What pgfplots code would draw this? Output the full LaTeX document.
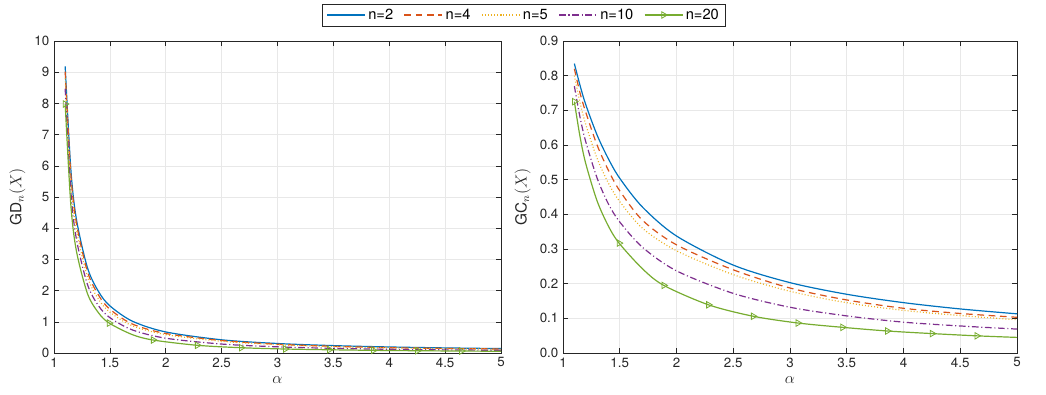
\documentclass[border=0pt]{standalone}
\usepackage{pgfplots}
\pgfplotsset{compat=1.18}
\usepackage{pgfplotstable}
\usepackage{fontspec}
\setmainfont{TeX Gyre Heros}
\definecolor{mblue}{rgb}{0,0.447,0.741}
\definecolor{morange}{rgb}{0.85,0.325,0.098}
\definecolor{myellow}{rgb}{0.929,0.694,0.125}
\definecolor{mpurple}{rgb}{0.494,0.184,0.556}
\definecolor{mgreen}{rgb}{0.466,0.674,0.188}
\definecolor{axgray}{rgb}{0.15,0.15,0.15}

% alpha  n=2  n=4  n=5  n=10  (GC)
\pgfplotstableread{
a     b      o      y      p
1.1   0.835  0.820  0.800  0.770
1.15  0.772  0.750  0.722  0.680
1.2   0.717  0.695  0.660  0.610
1.3   0.629  0.600  0.562  0.505
1.4   0.560  0.527  0.490  0.430
1.5   0.504  0.468  0.437  0.378
1.7   0.421  0.383  0.360  0.305
2     0.3375 0.312  0.295  0.237
2.5   0.2536 0.240  0.226  0.172
3     0.203  0.1875 0.178  0.132
3.5   0.1694 0.153  0.145  0.107
4     0.1453 0.129  0.123  0.089
4.5   0.1271 0.114  0.108  0.078
5     0.113  0.103  0.096  0.069
}\gcdata
\pgfplotstableread{
a     g
1.1   0.725
1.15  0.624
1.2   0.547
1.3   0.439
1.4   0.366
1.494 0.317
1.7   0.243
1.888 0.195
2.282 0.139
2.676 0.106
3.07  0.0865
3.464 0.074
3.858 0.0635
4.252 0.056
4.646 0.0495
5     0.045
}\gcgreen
\pgfplotstableread{
a     b      o      y      p
1.1   9.185  9.02   8.80   8.47
1.15  5.92   5.75   5.535  5.21
1.2   4.30   4.17   3.96   3.66
1.3   2.726  2.60   2.435  2.19
1.4   1.96   1.845  1.715  1.505
1.5   1.512  1.404  1.311  1.134
1.7   1.022  0.93   0.874  0.741
2     0.675  0.624  0.59   0.474
2.5   0.423  0.40   0.377  0.287
3     0.3045 0.281  0.267  0.198
3.5   0.237  0.214  0.203  0.150
4     0.1937 0.172  0.164  0.119
4.5   0.1634 0.1466 0.139  0.1003
5     0.1413 0.129  0.12   0.086
}\gddata
\pgfplotstableread{
a     g
1.1   7.98
1.15  4.78
1.2   3.28
1.3   1.90
1.4   1.28
1.494 0.959
1.7   0.59
1.888 0.415
2.282 0.247
2.676 0.169
3.07  0.128
3.464 0.104
3.858 0.0857
4.252 0.073
4.646 0.063
5     0.056
}\gdgreen

\pgfplotsset{
  myax/.style={
    scale only axis,
    anchor=south west,
    height=234pt,
    xmin=1, xmax=5,
    xtick={1,1.5,...,5},
    ymin=0,
    axis line style={axgray, line width=0.4pt},
    tick style={axgray, line width=0.4pt},
    major tick length=3.5pt,
    tick align=inside,
    grid=major,
    grid style={gray!18, line width=0.4pt},
    ticklabel style={font=\fontsize{10}{12}\selectfont, text=axgray},
    /pgf/number format/assume math mode=true,
    /pgf/number format/fixed,
    xlabel={$\alpha$},
    label style={font=\fontsize{11.5}{13}\selectfont, text=axgray},
    every axis plot/.append style={line width=0.9pt, smooth, tension=0.5},
  },
  sb/.style={mblue, solid, no marks},
  so/.style={morange, dash pattern=on 5pt off 3.5pt, no marks},
  sy/.style={myellow, dash pattern=on 0.7pt off 1.6pt, no marks},
  sp/.style={mpurple, dash pattern=on 5pt off 2pt on 0.8pt off 2pt, no marks},
  sg/.style={mgreen, solid, mark=triangle, mark size=2.8pt,
     mark options={solid, rotate=-90, fill=none, line width=0.6pt},
     mark indices={1,6,8,9,10,11,12,13,14,15}},
}

\begin{document}
\begin{tikzpicture}
\begin{axis}[myax,
  at={(40.5pt,30.75pt)}, width=335.25pt,
  ymax=10, ytick={0,1,...,10},
  ylabel={$\mathrm{GD}_n(X)$},
  legend columns=5,
  legend style={at={(1.0515,1.0833)}, anchor=center,
    draw=axgray, line width=0.4pt,
    font=\fontsize{11}{13}\selectfont,
    inner xsep=3pt, inner ysep=1.5pt,
    /tikz/every even column/.append style={column sep=6pt}},
  legend image code/.code={\draw[sharp plot, mark indices={2}] plot coordinates {(0cm,0cm) (0.5cm,0cm) (1.0cm,0cm)};},
]
\addplot[sb] table[x=a,y=b] {\gddata};
\addlegendentry{n=2}
\addplot[so] table[x=a,y=o] {\gddata};
\addlegendentry{n=4}
\addplot[sy] table[x=a,y=y] {\gddata};
\addlegendentry{n=5}
\addplot[sp] table[x=a,y=p] {\gddata};
\addlegendentry{n=10}
\addplot[sg] table[x=a,y=g] {\gdgreen};
\addlegendentry{n=20}
\end{axis}
\begin{axis}[myax,
  at={(422.25pt,30.75pt)}, width=340.5pt,
  ymax=0.9, ytick={0,0.1,...,0.9},
  yticklabel style={/pgf/number format/precision=1, /pgf/number format/fixed zerofill},
  ylabel={$\mathrm{GC}_n(X)$},
]
\addplot[sb] table[x=a,y=b] {\gcdata};
\addplot[so] table[x=a,y=o] {\gcdata};
\addplot[sy] table[x=a,y=y] {\gcdata};
\addplot[sp] table[x=a,y=p] {\gcdata};
\addplot[sg] table[x=a,y=g] {\gcgreen};
\end{axis}
\pgfresetboundingbox
\path (0,0) rectangle (784.5pt,295.5pt);
\end{tikzpicture}
\end{document}
